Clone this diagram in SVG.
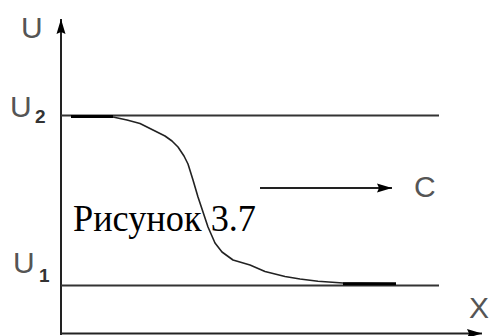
<svg xmlns="http://www.w3.org/2000/svg" width="492" height="336" viewBox="0 0 492 336">
<style>
.ax{stroke:#222;stroke-width:2;fill:none}
.lvl{stroke:#333;stroke-width:2;fill:none}
.crv{stroke:#222;stroke-width:1.6;fill:none;stroke-linejoin:round}
.thk{stroke:#000;stroke-width:3;fill:none}
.lbl{font-family:"Liberation Sans",Arial,sans-serif;font-size:30px;fill:#555}
.sub{font-family:"Liberation Sans",Arial,sans-serif;font-size:19px;font-weight:bold;fill:#333}
.cap{font-family:"Liberation Serif","Times New Roman",serif;font-size:37px;fill:#000}
</style>
<defs>
<marker id="ah" markerUnits="userSpaceOnUse" markerWidth="20" markerHeight="12" refX="15" refY="5" orient="auto" viewBox="0 0 20 12">
<path d="M15,5 L0,0.5 L2,5 L0,9.5 Z" fill="#000"/>
</marker>
</defs>
<g id="connectors">
<line id="y-axis" class="ax" x1="61" y1="335" x2="61" y2="19" marker-end="url(#ah)"/>
<line id="x-axis" class="ax" x1="60" y1="333.5" x2="482" y2="333.5" marker-end="url(#ah)"/>
<line id="c-arrow" class="ax" x1="260" y1="188" x2="392" y2="188" stroke-width="1.6" marker-end="url(#ah)"/>
</g>
<g id="u2-line"><line class="lvl" x1="61" y1="115.5" x2="439" y2="115.5"/></g>
<g id="u1-line"><line class="lvl" x1="61" y1="285.5" x2="439" y2="285.5"/></g>
<g id="curve">
<polyline class="crv" points="113,117 127,120 140,123.5 153,130 165,136 172,141 178,147 184,156 188,164 193,180 198,197 203,212 208,227 215,243 222,252 233,260 250,265 265,271.5 285,276.5 300,279 318,281.2 343,283 396,283.8"/>
<line class="thk" x1="71" y1="116.5" x2="113" y2="116.5"/>
<line class="thk" x1="343" y1="283.8" x2="396" y2="283.8"/>
</g>
<g id="labels">
<text class="lbl" x="21" y="38">U</text>
<text class="lbl" x="10" y="117">U</text>
<text class="sub" x="35" y="123">2</text>
<text class="lbl" x="13" y="273">U</text>
<text class="sub" x="39" y="282">1</text>
<text class="lbl" x="414" y="197">C</text>
<text class="lbl" x="469" y="318">X</text>
<text class="cap" x="73" y="231" textLength="183" lengthAdjust="spacingAndGlyphs">Рисунок 3.7</text>
</g>
</svg>
